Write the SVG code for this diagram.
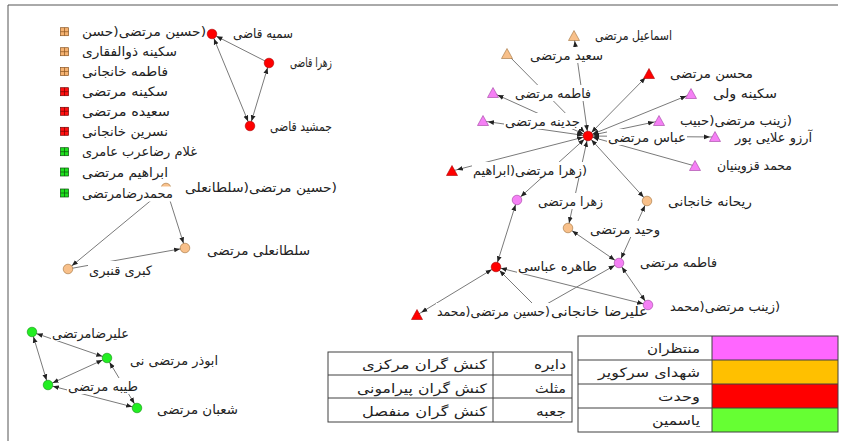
<svg xmlns="http://www.w3.org/2000/svg" xmlns:xlink="http://www.w3.org/1999/xlink" width="847" height="441" viewBox="0 0 847 441">
<style>
.e{stroke:#7a7a7a;stroke-width:1;fill:none}
.bi{marker-start:url(#a);marker-end:url(#a)}
.to{marker-end:url(#a)}
text{font-family:"DejaVu Sans","Noto Sans",sans-serif;font-size:13px;fill:#222}
.bg{fill:#fff}
.r{direction:rtl}
.t{font-size:13px}
.red{fill:#ff0000;stroke:#a00;stroke-width:0.6}
.org{fill:#f8c08a;stroke:#a0703a;stroke-width:0.6}
.pnk{fill:#f580f5;stroke:#a040a0;stroke-width:0.6}
.grn{fill:#22ee22;stroke:#109010;stroke-width:0.6}
.grid{fill:none;stroke:#404040;stroke-width:1}
</style>
<defs>
<marker id="a" markerUnits="userSpaceOnUse" markerWidth="12" markerHeight="6" viewBox="0 0 12 6" refX="11" refY="3" orient="auto-start-reverse">
<path d="M0,0.6 L6,3 L0,5.4 z" fill="#222"/>
</marker>
<g id="sq"><rect x="-4" y="-4" width="8" height="8" stroke-width="0.7"/><path d="M-4,0 H4 M0,-4 V4" fill="none" stroke-width="0.7"/></g>
<path id="tri" d="M-5.5,4.5 L5.5,4.5 L0,-5.5 z"/>
</defs>
<rect width="847" height="441" fill="#fff"/>
<path d="M8,441 V5 H838" fill="none" stroke="#555" stroke-width="1"/>

<g id="connectors">
<line class="e to" x1="269" y1="63" x2="212" y2="34"/>
<line class="e bi" x1="212" y1="34" x2="250" y2="126"/>
<line class="e bi" x1="269" y1="63" x2="250" y2="126"/>
<line class="e to" x1="166" y1="188" x2="185" y2="248"/>
<line class="e to" x1="166" y1="188" x2="68" y2="269"/>
<line class="e to" x1="68" y1="269" x2="185" y2="248"/>
<line class="e bi" x1="32" y1="332" x2="107" y2="358"/>
<line class="e bi" x1="32" y1="332" x2="48" y2="385"/>
<line class="e bi" x1="48" y1="385" x2="107" y2="358"/>
<line class="e bi" x1="48" y1="385" x2="137" y2="408"/>
<line class="e bi" x1="137" y1="408" x2="107" y2="358"/>
<line class="e bi" x1="588" y1="136" x2="574" y2="36"/>
<line class="e to" x1="507" y1="54" x2="588" y2="136"/>
<line class="e bi" x1="588" y1="136" x2="493" y2="93"/>
<line class="e bi" x1="588" y1="136" x2="483" y2="121"/>
<line class="e bi" x1="588" y1="136" x2="649" y2="74"/>
<line class="e bi" x1="588" y1="136" x2="691" y2="94"/>
<line class="e bi" x1="588" y1="136" x2="659" y2="121"/>
<line class="e bi" x1="588" y1="136" x2="715" y2="137"/>
<line class="e to" x1="695" y1="166" x2="588" y2="136"/>
<line class="e bi" x1="588" y1="136" x2="452" y2="171"/>
<line class="e bi" x1="588" y1="136" x2="517" y2="200"/>
<line class="e bi" x1="588" y1="136" x2="568" y2="228"/>
<line class="e bi" x1="588" y1="136" x2="647" y2="201"/>
<line class="e bi" x1="568" y1="228" x2="619" y2="263"/>
<line class="e bi" x1="647" y1="201" x2="619" y2="263"/>
<line class="e bi" x1="619" y1="263" x2="648" y2="305"/>
<line class="e bi" x1="517" y1="200" x2="496" y2="267"/>
<line class="e bi" x1="496" y1="267" x2="417" y2="315"/>
<line class="e bi" x1="496" y1="267" x2="648" y2="305"/>
<line class="e to" x1="538" y1="309" x2="496" y2="267"/>
<line class="e to" x1="538" y1="309" x2="619" y2="263"/>
</g>

<g id="n-somayeh"><rect class="bg" x="232" y="25" width="62" height="16"/><text x="233" y="38" textLength="60" lengthAdjust="spacingAndGlyphs">سمیه قاضی</text><circle class="red" cx="212" cy="34" r="4.8"/></g>
<g id="n-zahra-ghazi"><rect class="bg" x="289" y="54" width="44" height="16"/><text x="290" y="67" textLength="42" lengthAdjust="spacingAndGlyphs">زهرا قاضی</text><circle class="red" cx="269" cy="63" r="4.8"/></g>
<g id="n-jamshid"><rect class="bg" x="269" y="118" width="64" height="16"/><text x="270" y="131" textLength="62" lengthAdjust="spacingAndGlyphs">جمشید قاضی</text><circle class="red" cx="250" cy="126" r="4.8"/></g>

<g id="n-hosein-soltanali"><circle class="org" cx="166" cy="188" r="4.8"/><rect class="bg" x="184" y="179" width="154" height="16"/><text class="r" text-anchor="end" x="185" y="192" textLength="152" lengthAdjust="spacingAndGlyphs">(حسین مرتضی(سلطانعلی</text></g>
<g id="n-soltanali"><rect class="bg" x="206" y="242" width="105" height="16"/><text x="207" y="255" textLength="103" lengthAdjust="spacingAndGlyphs">سلطانعلی مرتضی</text><circle class="org" cx="185" cy="248" r="4.8"/></g>
<g id="n-kobra"><rect class="bg" x="88" y="261" width="65" height="16"/><text x="89" y="275" textLength="63" lengthAdjust="spacingAndGlyphs">کبری قنبری</text><circle class="org" cx="68" cy="269" r="4.8"/></g>

<g id="n-alireza-m"><rect class="bg" x="51" y="325" width="79" height="16"/><text x="52" y="338" textLength="77" lengthAdjust="spacingAndGlyphs">علیرضامرتضی</text><circle class="grn" cx="32" cy="332" r="4.8"/></g>
<g id="n-abuzar"><rect class="bg" x="129" y="352" width="90" height="16"/><text x="130" y="365" textLength="88" lengthAdjust="spacingAndGlyphs">ابوذر مرتضی نی</text><circle class="grn" cx="107" cy="358" r="4.8"/></g>
<g id="n-tayebeh"><rect class="bg" x="67" y="378" width="72" height="16"/><text x="68" y="391" textLength="70" lengthAdjust="spacingAndGlyphs">طیبه مرتضی</text><circle class="grn" cx="48" cy="385" r="4.8"/></g>
<g id="n-shaban"><rect class="bg" x="156" y="401" width="83" height="16"/><text x="157" y="414" textLength="81" lengthAdjust="spacingAndGlyphs">شعبان مرتضی</text><circle class="grn" cx="137" cy="408" r="4.8"/></g>

<g id="n-esmaeil"><rect class="bg" x="594" y="27" width="79" height="16"/><text x="595" y="40" textLength="77" lengthAdjust="spacingAndGlyphs">اسماعیل مرتضی</text><use xlink:href="#tri" x="574" y="36" class="org"/></g>
<g id="n-saeid"><rect class="bg" x="529" y="47" width="75" height="16"/><text x="530" y="60" textLength="73" lengthAdjust="spacingAndGlyphs">سعید مرتضی</text><use xlink:href="#tri" x="507" y="54" class="org"/></g>
<g id="n-fatemeh-t"><rect class="bg" x="514" y="85" width="78" height="16"/><text x="515" y="98" textLength="76" lengthAdjust="spacingAndGlyphs">فاطمه مرتضی</text><use xlink:href="#tri" x="493" y="93" class="pnk"/></g>
<g id="n-jadineh"><rect class="bg" x="504" y="113" width="77" height="16"/><text x="505" y="126" textLength="75" lengthAdjust="spacingAndGlyphs">جدینه مرتضی</text><use xlink:href="#tri" x="483" y="121" class="pnk"/></g>
<g id="n-mohsen"><rect class="bg" x="669" y="65" width="85" height="16"/><text x="670" y="78" textLength="83" lengthAdjust="spacingAndGlyphs">محسن مرتضی</text><use xlink:href="#tri" x="649" y="74" class="red"/></g>
<g id="n-sakineh-vali"><rect class="bg" x="712" y="85" width="66" height="16"/><text x="713" y="98" textLength="64" lengthAdjust="spacingAndGlyphs">سکینه ولی</text><use xlink:href="#tri" x="691" y="94" class="pnk"/></g>
<g id="n-zeinab-habib"><rect class="bg" x="679" y="112" width="114" height="16"/><text class="r" text-anchor="end" x="680" y="125" textLength="112" lengthAdjust="spacingAndGlyphs">(زینب مرتضی(حبیب</text><use xlink:href="#tri" x="659" y="121" class="pnk"/></g>
<g id="n-abbas"><rect class="bg" x="607" y="129" width="80" height="16"/><text x="608" y="142" textLength="78" lengthAdjust="spacingAndGlyphs">عباس مرتضی</text><circle class="red" cx="588" cy="136" r="4.8"/></g>
<g id="n-arezoo"><rect class="bg" x="734" y="129" width="79" height="16"/><text x="735" y="142" textLength="77" lengthAdjust="spacingAndGlyphs">آرزو علایی پور</text><use xlink:href="#tri" x="715" y="137" class="pnk"/></g>
<g id="n-mohammad-q"><rect class="bg" x="716" y="157" width="77" height="16"/><text x="717" y="170" textLength="75" lengthAdjust="spacingAndGlyphs">محمد قزوینیان</text><use xlink:href="#tri" x="695" y="166" class="pnk"/></g>
<g id="n-zahra-ebrahim"><rect class="bg" x="472" y="162" width="116" height="16"/><text class="r" text-anchor="end" x="473" y="175" textLength="114" lengthAdjust="spacingAndGlyphs">(زهرا مرتضی(ابراهیم</text><use xlink:href="#tri" x="452" y="171" class="red"/></g>
<g id="n-zahra-m"><rect class="bg" x="537" y="193" width="67" height="16"/><text x="538" y="206" textLength="65" lengthAdjust="spacingAndGlyphs">زهرا مرتضی</text><circle class="pnk" cx="517" cy="200" r="4.8"/></g>
<g id="n-reyhaneh"><rect class="bg" x="667" y="193" width="86" height="16"/><text x="668" y="206" textLength="84" lengthAdjust="spacingAndGlyphs">ریحانه خانجانی</text><circle class="org" cx="647" cy="201" r="4.8"/></g>
<g id="n-vahid"><rect class="bg" x="589" y="221" width="72" height="16"/><text x="590" y="234" textLength="70" lengthAdjust="spacingAndGlyphs">وحید مرتضی</text><circle class="org" cx="568" cy="228" r="4.8"/></g>
<g id="n-fatemeh-c"><rect class="bg" x="639" y="254" width="79" height="16"/><text x="640" y="267" textLength="77" lengthAdjust="spacingAndGlyphs">فاطمه مرتضی</text><circle class="pnk" cx="619" cy="263" r="4.8"/></g>
<g id="n-tahereh"><rect class="bg" x="517" y="258" width="81" height="16"/><text x="518" y="271" textLength="79" lengthAdjust="spacingAndGlyphs">طاهره عباسی</text><circle class="red" cx="496" cy="267" r="4.8"/></g>
<g id="n-alireza-kh"><rect class="bg" x="550" y="306" width="98" height="14"/><text x="551" y="316" textLength="97" lengthAdjust="spacingAndGlyphs">علیرضا خانجانی</text></g>
<g id="n-hosein-mohammad"><rect class="bg" x="436" y="303" width="115" height="16"/><text class="r" text-anchor="end" x="437" y="316" textLength="113" lengthAdjust="spacingAndGlyphs">(حسین مرتضی(محمد</text><use xlink:href="#tri" x="417" y="315" class="red"/></g>
<g id="n-zeinab-mohammad"><rect class="bg" x="669" y="298" width="112" height="16"/><text class="r" text-anchor="end" x="670" y="311" textLength="110" lengthAdjust="spacingAndGlyphs">(زینب مرتضی(محمد</text><circle class="pnk" cx="648" cy="305" r="4.8"/></g>

<g id="legend">
<use xlink:href="#sq" x="64.5" y="31.7" fill="#f5b271" stroke="#8a5520"/>
<use xlink:href="#sq" x="64.5" y="51.7" fill="#f5b271" stroke="#8a5520"/>
<use xlink:href="#sq" x="64.5" y="71.5" fill="#f5b271" stroke="#8a5520"/>
<use xlink:href="#sq" x="64.5" y="91.7" fill="#ff1010" stroke="#700"/>
<use xlink:href="#sq" x="64.5" y="111.3" fill="#ff1010" stroke="#700"/>
<use xlink:href="#sq" x="64.5" y="131.3" fill="#ff1010" stroke="#700"/>
<use xlink:href="#sq" x="64.5" y="151.7" fill="#1ee01e" stroke="#0a500a"/>
<use xlink:href="#sq" x="64.5" y="172" fill="#1ee01e" stroke="#0a500a"/>
<use xlink:href="#sq" x="64.5" y="193" fill="#1ee01e" stroke="#0a500a"/>
<text class="r" text-anchor="end" x="82" y="36" textLength="124" lengthAdjust="spacingAndGlyphs">(حسین مرتضی(حسن</text>
<text x="82" y="56" textLength="95" lengthAdjust="spacingAndGlyphs">سکینه ذوالفقاری</text>
<text x="82" y="76" textLength="86" lengthAdjust="spacingAndGlyphs">فاطمه خانجانی</text>
<text x="82" y="96" textLength="86" lengthAdjust="spacingAndGlyphs">سکینه مرتضی</text>
<text x="82" y="116" textLength="88" lengthAdjust="spacingAndGlyphs">سعیده  مرتضی</text>
<text x="82" y="136" textLength="86" lengthAdjust="spacingAndGlyphs">نسرین خانجانی</text>
<text x="82" y="156" textLength="115" lengthAdjust="spacingAndGlyphs">غلام رضاعرب عامری</text>
<text x="82" y="176.5" textLength="86" lengthAdjust="spacingAndGlyphs">ابراهیم مرتضی</text>
<rect class="bg" x="81" y="186.5" width="93" height="15"/>
<text x="82" y="197.5" textLength="91" lengthAdjust="spacingAndGlyphs">محمدرضامرتضی</text>
</g>

<g id="table-shapes">
<rect class="grid" x="328" y="352" width="244" height="70"/>
<path class="grid" d="M328,375 H572 M328,398 H572 M493,352 V422"/>
<text class="t" x="566" y="369" text-anchor="end" textLength="32" lengthAdjust="spacingAndGlyphs">دایره</text>
<text class="t" x="566" y="393" text-anchor="end" textLength="31" lengthAdjust="spacingAndGlyphs">مثلث</text>
<text class="t" x="566" y="416" text-anchor="end" textLength="30" lengthAdjust="spacingAndGlyphs">جعبه</text>
<text class="t" x="487" y="369" text-anchor="end" textLength="125" lengthAdjust="spacingAndGlyphs">کنش گران مرکزی</text>
<text class="t" x="487" y="393" text-anchor="end" textLength="130" lengthAdjust="spacingAndGlyphs">کنش گران پیرامونی</text>
<text class="t" x="487" y="416" text-anchor="end" textLength="125" lengthAdjust="spacingAndGlyphs">کنش گران منفصل</text>
</g>

<g id="table-groups">
<rect x="712" y="336" width="126" height="24" fill="#ff66ff"/>
<rect x="712" y="360" width="126" height="24" fill="#ffc000"/>
<rect x="712" y="384" width="126" height="24" fill="#ff0000"/>
<rect x="712" y="408" width="126" height="24" fill="#66ff33"/>
<rect class="grid" x="578" y="336" width="260" height="96"/>
<path class="grid" d="M578,360 H838 M578,384 H838 M578,408 H838 M712,336 V432"/>
<text class="t" x="700" y="353" text-anchor="end" textLength="53" lengthAdjust="spacingAndGlyphs">منتظران</text>
<text class="t" x="700" y="377" text-anchor="end" textLength="102" lengthAdjust="spacingAndGlyphs">شهدای سرکویر</text>
<text class="t" x="700" y="401" text-anchor="end" textLength="42" lengthAdjust="spacingAndGlyphs">وحدت</text>
<text class="t" x="700" y="425" text-anchor="end" textLength="48" lengthAdjust="spacingAndGlyphs">یاسمین</text>
</g>
</svg>
